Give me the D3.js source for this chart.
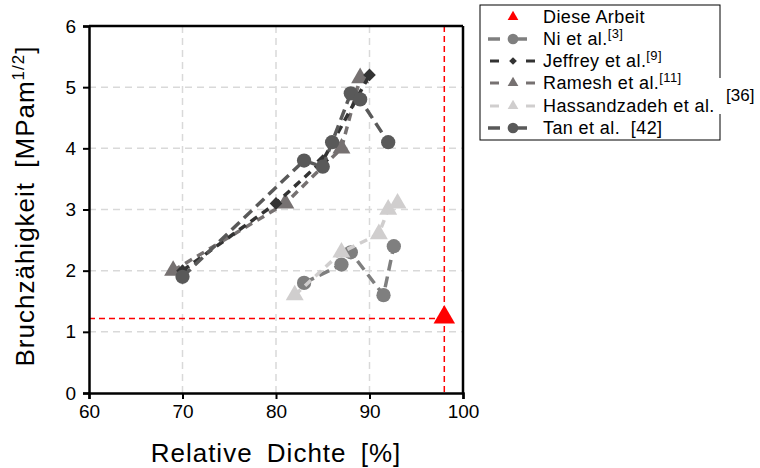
<!DOCTYPE html>
<html>
<head>
<meta charset="utf-8">
<script src="https://cdn.jsdelivr.net/npm/d3@7"></script>
<style>
  body { margin: 0; background: #fff; }
  svg { font-family: "Liberation Sans", Arial, sans-serif; }
</style>
</head>
<body>
<div id="chart"></div>
<script>
// Data
const niX = [83, 87, 88, 91.5, 92.6];
const niY = [1.8, 2.1, 2.3, 1.6, 2.4];
const jeffreyX = [70, 80, 85, 90];
const jeffreyY = [2.0, 3.1, 3.8, 5.2];
const rameshX = [69, 81, 87, 89];
const rameshY = [2.0, 3.1, 4.0, 5.15];
const hassX = [82, 87, 91, 92, 93];
const hassY = [1.6, 2.3, 2.6, 3.0, 3.1];
const tanX = [70, 83, 85, 86, 88, 89, 92];
const tanY = [1.9, 3.8, 3.7, 4.1, 4.9, 4.8, 4.1];
const thisWorkX = 98;
const thisWorkY = 1.22;
const xTicks = [60, 70, 80, 90, 100];
const yTicks = [0, 1, 2, 3, 4, 5, 6];

const width = 760, height = 468;
const margin = {left: 89, right: 297, top: 26, bottom: 75};

const svg = d3.select("#chart").append("svg")
  .attr("width", width)
  .attr("height", height);

const x = d3.scaleLinear().domain([60, 100]).range([margin.left, width - margin.right]);
const y = d3.scaleLinear().domain([0, 6]).range([height - margin.bottom, margin.top]);

// grid
svg.append("g")
  .selectAll("line")
  .data(yTicks.filter(d => d > 0 && d < 6))
  .join("line")
    .attr("x1", x(60)).attr("x2", x(100))
    .attr("y1", d => y(d)).attr("y2", d => y(d))
    .attr("stroke", "#d9d9d9").attr("stroke-width", 1.5)
    .attr("stroke-dasharray", "7,5");
svg.append("g")
  .selectAll("line")
  .data(xTicks.filter(d => d > 60 && d < 100))
  .join("line")
    .attr("y1", y(0)).attr("y2", y(6))
    .attr("x1", d => x(d)).attr("x2", d => x(d))
    .attr("stroke", "#d9d9d9").attr("stroke-width", 1.5)
    .attr("stroke-dasharray", "7,5");

// red reference lines for this work
svg.append("line")
  .attr("x1", x(60)).attr("x2", x(thisWorkX))
  .attr("y1", y(thisWorkY)).attr("y2", y(thisWorkY))
  .attr("stroke", "#ff0000").attr("stroke-width", 1.5)
  .attr("stroke-dasharray", "6,4");
svg.append("line")
  .attr("x1", x(thisWorkX)).attr("x2", x(thisWorkX))
  .attr("y1", y(6)).attr("y2", y(0))
  .attr("stroke", "#ff0000").attr("stroke-width", 1.5)
  .attr("stroke-dasharray", "6,4");

// axes
const xAxis = svg.append("g")
  .attr("transform", `translate(0,${y(0)})`)
  .call(d3.axisBottom(x).tickValues(xTicks).tickFormat(d3.format("d")).tickSize(6).tickPadding(6));
const yAxis = svg.append("g")
  .attr("transform", `translate(${x(60)},0)`)
  .call(d3.axisLeft(y).tickValues(yTicks).tickFormat(d3.format("d")).tickSize(6).tickPadding(7));
[xAxis, yAxis].forEach(a => {
  a.select(".domain").attr("stroke", "#000").attr("stroke-width", 2.5);
  a.selectAll(".tick line").attr("stroke", "#000").attr("stroke-width", 2);
  a.selectAll(".tick text")
    .attr("fill", "#000")
    .style("font-family", "'Liberation Sans', Arial, sans-serif")
    .style("font-size", "19px");
});
// frame top/right
svg.append("line").attr("x1", x(60)).attr("x2", x(100)).attr("y1", y(6)).attr("y2", y(6))
  .attr("stroke", "#000").attr("stroke-width", 2.5);
svg.append("line").attr("x1", x(100)).attr("x2", x(100)).attr("y1", y(6)).attr("y2", y(0))
  .attr("stroke", "#000").attr("stroke-width", 2.5);

// series
const series = [
  {name: "Ni", xs: niX, ys: niY, color: "#7f7f7f", shape: "circle", dash: "11,6"},
  {name: "Hass", xs: hassX, ys: hassY, color: "#d0cece", shape: "triangle", dash: "8,6"},
  {name: "Ramesh", xs: rameshX, ys: rameshY, color: "#767171", shape: "triangle", dash: "8,6"},
  {name: "Jeffrey", xs: jeffreyX, ys: jeffreyY, color: "#333333", shape: "diamond", dash: "8,6"},
  {name: "Tan", xs: tanX, ys: tanY, color: "#595959", shape: "circle", dash: "11,6"}
];

const line = d3.line().x(d => x(d[0])).y(d => y(d[1]));
const symbolOf = {
  circle: d3.symbol(d3.symbolCircle, 160),
  triangle: d3.symbol(d3.symbolTriangle, 140),
  diamond: d3.symbol(d3.symbolSquare, 80)
};

series.forEach(s => {
  const pts = s.xs.map((v, i) => [v, s.ys[i]]);
  svg.append("path")
    .attr("d", line(pts))
    .attr("fill", "none")
    .attr("stroke", s.color)
    .attr("stroke-width", 3.5)
    .attr("stroke-dasharray", s.dash);
  svg.append("g")
    .selectAll("path")
    .data(pts)
    .join("path")
      .attr("d", symbolOf[s.shape]())
      .attr("transform", d => `translate(${x(d[0])},${y(d[1])})` + (s.shape === "diamond" ? " rotate(45)" : ""))
      .attr("fill", s.color);
});

// this work
svg.append("path")
  .attr("d", d3.symbol(d3.symbolTriangle, 200)())
  .attr("transform", `translate(${x(thisWorkX)},${y(thisWorkY) - 1})`)
  .attr("fill", "#ff0000");

// axis titles (the original uses wide letter spacing)
const yTitle = svg.append("text")
  .attr("transform", `translate(34,206) rotate(-90)`)
  .attr("text-anchor", "middle")
  .style("font-size", "26px")
  .style("letter-spacing", "1px")
  .style("word-spacing", "6px");
yTitle.append("tspan").text("Bruchzähigkeit [MPam");
yTitle.append("tspan").attr("dy", "-10").style("font-size", "17px").text("1/2");
yTitle.append("tspan").attr("dy", "10").text("]");

svg.append("text")
  .attr("x", (x(60) + x(100)) / 2)
  .attr("y", 462)
  .attr("text-anchor", "middle")
  .style("font-size", "26px")
  .style("letter-spacing", "1px")
  .style("word-spacing", "6px")
  .text("Relative Dichte [%]");

// legend
const legend = svg.append("g");
legend.append("rect")
  .attr("x", 480).attr("y", 5).attr("width", 240).attr("height", 135)
  .attr("fill", "#fff").attr("stroke", "#000").attr("stroke-width", 1);

const legendItems = [
  {label: "Diese Arbeit", sup: "", color: "#ff0000", shape: "triangle", dash: null},
  {label: "Ni et al.", sup: "[3]", color: "#7f7f7f", shape: "circle", dash: "solid"},
  {label: "Jeffrey et al.", sup: "[9]", color: "#333333", shape: "diamond", dash: "gap"},
  {label: "Ramesh et al.", sup: "[11]", color: "#767171", shape: "triangle", dash: "gap"},
  {label: "Hassandzadeh et al.", sup: "", color: "#d0cece", shape: "triangle", dash: "gap"},
  {label: "Tan et al.\u00a0\u00a0[42]", sup: "", color: "#595959", shape: "circle", dash: "solid"}
];
const rowY = [17, 39, 61, 83, 106, 128];
const legSym = {
  circle: d3.symbol(d3.symbolCircle, 90),
  triangle: d3.symbol(d3.symbolTriangle, 50),
  diamond: d3.symbol(d3.symbolSquare, 30)
};

legendItems.forEach((it, i) => {
  const ry = rowY[i];
  const g = legend.append("g");
  if (it.dash === "solid") {
    g.append("line").attr("x1", 488).attr("x2", 500).attr("y1", ry).attr("y2", ry)
      .attr("stroke", it.color).attr("stroke-width", 3.5);
    g.append("line").attr("x1", 513).attr("x2", 527).attr("y1", ry).attr("y2", ry)
      .attr("stroke", it.color).attr("stroke-width", 3.5);
  } else if (it.dash === "gap") {
    g.append("line").attr("x1", 490).attr("x2", 499).attr("y1", ry).attr("y2", ry)
      .attr("stroke", it.color).attr("stroke-width", 3);
    g.append("line").attr("x1", 526).attr("x2", 535).attr("y1", ry).attr("y2", ry)
      .attr("stroke", it.color).attr("stroke-width", 3);
  }
  g.append("path")
    .attr("d", legSym[it.shape]())
    .attr("transform", `translate(513,${ry})` + (it.shape === "diamond" ? " rotate(45)" : ""))
    .attr("fill", it.color);
  const t = g.append("text")
    .attr("x", 543).attr("y", ry + 6)
    .style("font-size", "18px")
    .style("letter-spacing", "0.4px")
    .text(it.label);
  if (it.sup) {
    t.append("tspan").attr("dy", "-7").style("font-size", "13px").text(it.sup);
  }
});

// [36] sits outside the legend box, on a white patch over the border
legend.append("rect").attr("x", 716).attr("y", 78).attr("width", 44).attr("height", 36).attr("fill", "#fff");
legend.append("text")
  .attr("x", 726).attr("y", 101)
  .style("font-size", "17px")
  .text("[36]");
</script>
</body>
</html>
